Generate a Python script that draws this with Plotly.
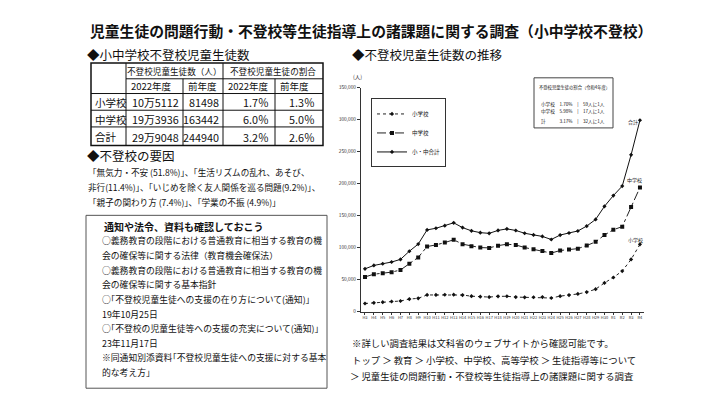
import plotly.graph_objects as go

W, H = 701, 395
def fx(p): return p / W
def fy(p): return 1 - p / H

# ---------------- data ----------------
years = ["H3","H4","H5","H6","H7","H8","H9","H10","H11","H12","H13","H14","H15","H16","H17",
         "H18","H19","H20","H21","H22","H23","H24","H25","H26","H27","H28","H29","H30","R1","R2","R3","R4"]
elementary = [12645,13710,14769,15786,16569,19498,20765,26017,26047,26373,26511,25869,24077,23318,22709,
              23825,23927,22652,22327,22463,22622,21243,24175,25864,27583,30448,35032,44841,53350,63350,81498,105112]
junior = [54172,58421,60039,61663,65022,74853,84701,101675,104180,107913,112211,105383,102149,100040,99578,
          103069,105328,104153,100105,97428,94836,91446,95442,97033,98408,103235,108999,119687,127922,132777,163442,193936]
total = [66817,72131,74808,77449,81591,94351,105466,127692,130227,134286,138722,131252,126226,123358,122287,
         126894,129255,126805,122432,119891,117458,112689,119617,122897,125991,133683,144031,164528,181272,196127,244940,299048]
series_names = ["小学校", "中学校", "小・中合計"]
y_ticks = [0, 50000, 100000, 150000, 200000, 250000, 300000, 350000]

table_rows = ["小学校", "中学校", "合計"]
count_2022 = ["10万5112", "19万3936", "29万9048"]
count_prev = ["81498", "163442", "244940"]
rate_2022 = ["1.7％", "6.0％", "3.2％"]
rate_prev = ["1.3％", "5.0％", "2.6％"]
table_head1 = ["不登校児童生徒数（人）", "不登校児童生徒の割合"]
table_head2 = ["2022年度", "前年度", "2022年度", "前年度"]

info_lines = ["不登校児童生徒の割合（令和4年度）",
              "小学校　1.70%　|　59人に1人",
              "中学校　5.98%　|　17人に1人",
              "計　　　3.17%　|　32人に1人"]

title = "児童生徒の問題行動・不登校等生徒指導上の諸課題に関する調査（小中学校不登校）"
head_table = "◆小中学校不登校児童生徒数"
head_chart = "◆不登校児童生徒数の推移"
head_cause = "◆不登校の要因"
cause_lines = ["「無気力・不安 (51.8%)」、「生活リズムの乱れ、あそび、",
               "非行(11.4%)」、「いじめを除く友人関係を巡る問題(9.2%)」、",
               "「親子の関わり方 (7.4%)」、「学業の不振 (4.9%)」"]
box_title = "通知や法令、資料も確認しておこう"
box_lines = ["○義務教育の段階における普通教育に相当する教育の機",
             "会の確保等に関する法律（教育機会確保法）",
             "○義務教育の段階における普通教育に相当する教育の機",
             "会の確保等に関する基本指針",
             "○｢不登校児童生徒への支援の在り方について(通知)｣",
             "19年10月25日",
             "○｢不登校の児童生徒等への支援の充実について(通知)｣",
             "23年11月17日",
             "※同通知別添資料｢不登校児童生徒への支援に対する基本",
             "的な考え方｣"]
note_lines = ["※詳しい調査結果は文科省のウェブサイトから確認可能です。",
              "トップ ＞ 教育 ＞ 小学校、中学校、高等学校 ＞ 生徒指導等について",
              "＞ 児童生徒の問題行動・不登校等生徒指導上の諸課題に関する調査"]

FONT = "Noto Sans CJK JP"
fig = go.Figure()
xs = list(range(len(years)))
fig.add_trace(go.Scatter(x=xs, y=elementary, name=series_names[0], mode="lines+markers",
                         line=dict(color="#222", width=1, dash="dot"),
                         marker=dict(symbol="diamond", size=3.2, color="#111")))
fig.add_trace(go.Scatter(x=xs, y=junior, name=series_names[1], mode="lines+markers",
                         line=dict(color="#222", width=1, dash="dashdot"),
                         marker=dict(symbol="square", size=4, color="#111")))
fig.add_trace(go.Scatter(x=xs, y=total, name=series_names[2], mode="lines+markers",
                         line=dict(color="#111", width=1),
                         marker=dict(symbol="diamond", size=3.2, color="#111")))

shapes = []
ann = []

def text(x, y, s, size, bold=False, anchor="left", color="#111"):
    ann.append(dict(xref="paper", yref="paper", x=fx(x), y=fy(y), text=("<b>%s</b>" % s) if bold else s,
                    showarrow=False, xanchor=anchor, yanchor="middle",
                    font=dict(size=size, color=color, family=FONT)))

def line(x0, y0, x1, y1, w=1, color="#111"):
    shapes.append(dict(type="line", xref="paper", yref="paper", x0=fx(x0), y0=fy(y0), x1=fx(x1), y1=fy(y1),
                       line=dict(color=color, width=w)))

# titles
text(80, 19, title, 14.8, bold=True)
text(77, 43, head_table, 12.5)
text(342, 43, head_chart, 12.5)
text(77, 146, head_cause, 12.5)

# table
cx = [83, 118, 175, 215, 267, 315]
ry = [52, 68, 83, 100, 117, 136]
shapes.append(dict(type="rect", xref="paper", yref="paper", x0=fx(cx[0]), x1=fx(cx[-1]), y0=fy(ry[0]), y1=fy(ry[-1]),
                   line=dict(color="#111", width=1.5)))
line(cx[1], ry[1], cx[-1], ry[1])
for r in ry[2:-1]:
    line(cx[0], r, cx[-1], r)
line(cx[1], ry[0], cx[1], ry[-1])
line(cx[3], ry[0], cx[3], ry[-1])
line(cx[2], ry[1], cx[2], ry[-1])
line(cx[4], ry[1], cx[4], ry[-1])
text((cx[1] + cx[3]) / 2, (ry[0] + ry[1]) / 2, table_head1[0], 8.6, anchor="center")
text((cx[3] + cx[5]) / 2, (ry[0] + ry[1]) / 2, table_head1[1], 8.6, anchor="center")
for i, h in enumerate(table_head2):
    text(cx[i + 1] + 3, (ry[1] + ry[2]) / 2, h, 9.5)
for i in range(3):
    yc = (ry[i + 2] + ry[i + 3]) / 2 + 0.5
    text(cx[0] + 2, yc, table_rows[i], 10.5)
    text(cx[2] - 2, yc, count_2022[i], 10.8, anchor="right")
    text(cx[3] - 2, yc, count_prev[i], 10.8, anchor="right")
    text(cx[4] - 4, yc, rate_2022[i], 10.8, anchor="right")
    text(cx[5] - 6, yc, rate_prev[i], 10.8, anchor="right")

# causes
for i, s in enumerate(cause_lines):
    text(78, 163 + 15 * i, s, 8.6)

# box
shapes.append(dict(type="rect", xref="paper", yref="paper", x0=fx(78), x1=fx(319), y0=fy(207), y1=fy(383),
                   line=dict(color="#555", width=1)))
text(94, 218, box_title, 10, bold=True)
for i, s in enumerate(box_lines):
    text(92, 233 + 14.9 * i, s, 8.8)

# notes
for i, s in enumerate(note_lines):
    text(340 if i == 2 else 342, 337 + 17 * i, s, 9.4)

# chart extras
text(343, 66, "(人)", 5.5, color="#333")
shapes.append(dict(type="rect", xref="paper", yref="paper", x0=fx(526), x1=fx(605), y0=fy(67), y1=fy(118),
                   line=dict(color="#444", width=1), fillcolor="white"))
text(529, 77, info_lines[0], 4.3)
text(531, 94, info_lines[1], 4.6)
text(531, 101, info_lines[2], 4.6)
text(531, 111, info_lines[3], 4.6)
for lbl, xv, yv in [("合計", 30.25, 297000), ("中学校", 30.35, 205000), ("小学校", 30.55, 112000)]:
    ann.append(dict(xref="x", yref="y", x=xv, y=yv, text=lbl, showarrow=False, xanchor="center",
                    yanchor="middle", font=dict(size=5, color="#222", family=FONT)))

fig.update_layout(
    width=W, height=H, margin=dict(l=0, r=0, t=0, b=0),
    paper_bgcolor="white", plot_bgcolor="white",
    font=dict(family=FONT, color="#111"),
    shapes=shapes, annotations=ann,
    showlegend=True,
    legend=dict(x=fx(363), y=fy(88), xanchor="left", yanchor="top", bgcolor="white",
                bordercolor="#333", borderwidth=1, font=dict(size=5.5, family=FONT),
                tracegroupgap=0, itemwidth=30),
    xaxis=dict(domain=[fx(353), fx(636.4)], range=[-0.45, 31.5], tickvals=xs, ticktext=years,
               tickfont=dict(size=4, color="#333"), showline=True, linecolor="#333", linewidth=1,
               ticks="outside", ticklen=2, tickcolor="#333", showgrid=False, zeroline=False, tickangle=0),
    yaxis=dict(domain=[fy(305), fy(77)], range=[0, 350000], tickvals=y_ticks,
               ticktext=["0" if v == 0 else f"{v:,}" for v in y_ticks],
               tickfont=dict(size=4.8, color="#333"), showline=True, linecolor="#333", linewidth=1,
               ticks="outside", ticklen=3, tickcolor="#333", showgrid=False, zeroline=False),
)
fig.write_html("out.html")
